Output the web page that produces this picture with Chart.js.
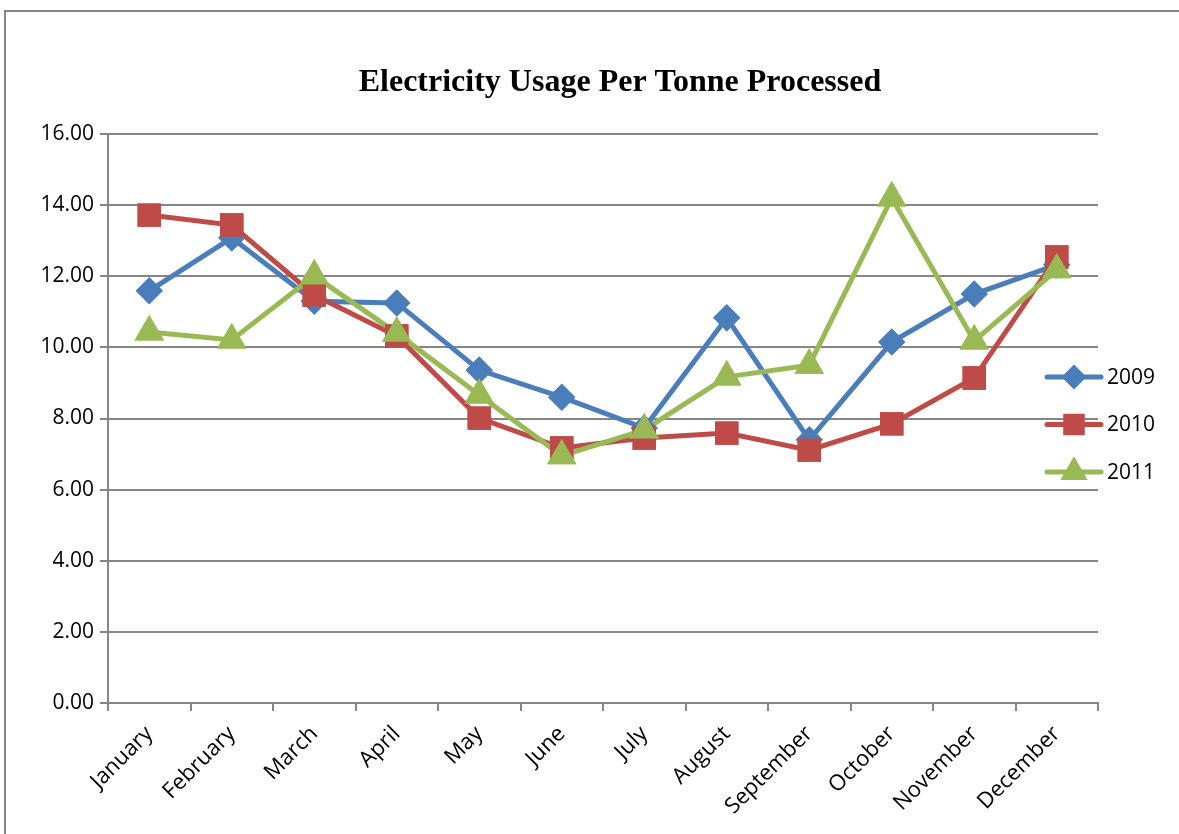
<!DOCTYPE html>
<html lang="en">
<head>
  <meta charset="UTF-8">
  <title>Electricity Usage Per Tonne Processed</title>
  <script src="https://cdn.jsdelivr.net/npm/chart.js"></script>
  <style>
    body { margin: 0; background: white; }
    #wrap { width: 1179px; height: 834px; }
  </style>
</head>
<body>
<div id="wrap">
  <canvas id="usageChart" width="1179" height="834"></canvas>
</div>

<script>
  const chartTitle = 'Electricity Usage Per Tonne Processed';
  const months = ["January", "February", "March", "April", "May", "June",
                  "July", "August", "September", "October", "November", "December"];
  const usage2009 = [11.59, 13.08, 11.30, 11.25, 9.36, 8.60, 7.73, 10.83, 7.40, 10.15, 11.50, 12.32];
  const usage2010 = [13.72, 13.44, 11.47, 10.32, 8.01, 7.17, 7.45, 7.59, 7.11, 7.85, 9.14, 12.54];
  const usage2011 = [10.43, 10.21, 12.01, 10.40, 8.66, 6.95, 7.68, 9.17, 9.50, 14.20, 10.18, 12.18];
  const yTicks = [0, 2, 4, 6, 8, 10, 12, 14, 16];

  const gridGrey = '#868686';
  const labelFont = "'Open Sans', 'Noto Sans', sans-serif";

  // outer frame like the excel chart border
  const frame = {
    id: 'frame',
    beforeDraw(chart) {
      const ctx = chart.ctx;
      ctx.save();
      ctx.strokeStyle = gridGrey;
      ctx.lineWidth = 2;
      ctx.strokeRect(5, 11, chart.width + 20, chart.height + 20);
      ctx.restore();
    }
  };

  // excel puts every marker above every line, so redraw the points last
  const markersOnTop = {
    id: 'markersOnTop',
    afterDatasetsDraw(chart) {
      const ctx = chart.ctx;
      chart.data.datasets.forEach((ds, i) => {
        chart.getDatasetMeta(i).data.forEach(pt => pt.draw(ctx, chart.chartArea));
      });
    }
  };

  // title centred on the whole frame, not the plot
  const frameTitle = {
    id: 'frameTitle',
    afterDraw(chart) {
      const ctx = chart.ctx;
      const area = chart.chartArea;
      ctx.save();
      ctx.fillStyle = '#000';
      ctx.font = "bold 32px 'Liberation Serif', serif";
      ctx.textAlign = 'center';
      ctx.textBaseline = 'middle';
      ctx.fillText(chartTitle, (area.left + area.right) / 2 + 17, 83);
      ctx.restore();
    }
  };

  // legend with line + marker, drawn at the right side
  const sideLegend = {
    id: 'sideLegend',
    afterDraw(chart) {
      const ctx = chart.ctx;
      const area = chart.chartArea;
      const mid = (area.top + area.bottom) / 2 + 6;
      ctx.save();
      chart.data.datasets.forEach((ds, i) => {
        const y = mid + (i - 1) * 47.5;
        const x0 = area.right - 51, x1 = area.right + 3;
        ctx.strokeStyle = ds.borderColor;
        ctx.lineWidth = ds.borderWidth;
        ctx.lineCap = 'round';
        ctx.beginPath();
        ctx.moveTo(x0, y);
        ctx.lineTo(x1, y);
        ctx.stroke();
        Chart.helpers.drawPoint(ctx, {
          pointStyle: ds.pointStyle,
          radius: ds.pointRadius * 0.9,
          rotation: 0,
          borderWidth: 1
        }, (x0 + x1) / 2, y);
        ctx.fillStyle = ds.backgroundColor;
        ctx.strokeStyle = ds.borderColor;
        ctx.fill();
        ctx.fillStyle = '#000';
        ctx.font = "21px " + labelFont;
        ctx.textBaseline = 'middle';
        ctx.textAlign = 'left';
        ctx.fillText(ds.label, x1 + 6, y + 1);
      });
      ctx.restore();
    }
  };

  const ctx = document.getElementById('usageChart').getContext('2d');
  new Chart(ctx, {
    type: 'line',
    data: {
      labels: months,
      datasets: [
        { label: '2009', data: usage2009, borderColor: '#4A7EBB', backgroundColor: '#4A7EBB',
          pointStyle: 'rectRot', pointRadius: 10, borderWidth: 5, order: 2 },
        { label: '2010', data: usage2010, borderColor: '#BE4B48', backgroundColor: '#BE4B48',
          pointStyle: 'rect', pointRadius: 13, borderWidth: 5, order: 1 },
        { label: '2011', data: usage2011, borderColor: '#98B954', backgroundColor: '#98B954',
          pointStyle: 'triangle', pointRadius: 12, borderWidth: 5, order: 0 }
      ]
    },
    options: {
      responsive: false,
      animation: false,
      layout: { padding: { left: 20, right: 81, top: 134, bottom: 0 } },
      elements: { line: { tension: 0 }, point: { borderWidth: 1 } },
      plugins: {
        legend: { display: false },
        tooltip: { enabled: false },
        title: { display: false }
      },
      scales: {
        x: {
          offset: true,
          grid: { drawOnChartArea: false, drawTicks: true, tickLength: 8, color: gridGrey, lineWidth: 2, offset: true },
          border: { color: gridGrey, width: 2 },
          ticks: {
            color: '#000', minRotation: 45, maxRotation: 45, padding: 10,
            font: { family: labelFont, size: 22 }
          },
          afterFit(scale) { scale.height = 131; }
        },
        y: {
          min: 0, max: 16,
          afterBuildTicks(scale) { scale.ticks = yTicks.map(v => ({ value: v })); },
          grid: { color: gridGrey, lineWidth: 2, tickLength: 8 },
          border: { color: gridGrey, width: 2 },
          ticks: {
            color: '#000', padding: 6,
            font: { family: labelFont, size: 21 },
            callback: v => v.toFixed(2)
          },
          afterFit(scale) { scale.width = 88; }
        }
      }
    },
    plugins: [frame, markersOnTop, frameTitle, sideLegend]
  });
</script>
</body>
</html>
